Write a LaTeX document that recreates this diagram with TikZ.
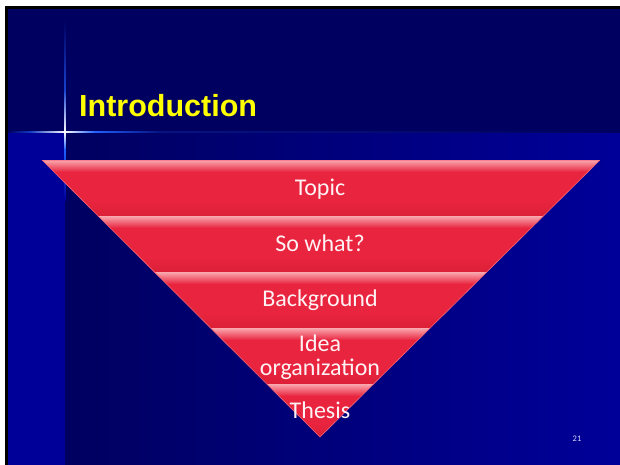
\documentclass[tikz,border=0pt]{standalone}
\usepackage{fontspec}
\setmainfont{Carlito}
\newfontfamily\titlefont{Liberation Sans}
\definecolor{navy}{HTML}{000060}
\definecolor{brightblue}{HTML}{000099}
\definecolor{bandred}{HTML}{E8243E}
\definecolor{banddark}{HTML}{DC1F37}
\definecolor{bandpink}{HTML}{FAA8B0}
\definecolor{titleyellow}{HTML}{FFFF00}
\definecolor{flareblue}{HTML}{2060FF}
\definecolor{textwhite}{HTML}{FFF2F4}
\tikzset{
  bandtext/.style={text=textwhite, font=\fontsize{24}{26}\selectfont, anchor=base, inner sep=0pt},
  titletext/.style={text=titleyellow, font=\titlefont\bfseries\fontsize{30.5}{32}\selectfont, anchor=base west, inner sep=0pt},
  pagenum/.style={text=white!85!blue, font=\fontsize{8.5}{9}\selectfont, inner sep=0pt}
}
\begin{document}
\begin{tikzpicture}[x=1pt,y=-1pt]
\useasboundingbox (0,0) rectangle (620,465);
% page
\fill[white] (0,0) rectangle (620,465);
\fill[black] (5,6) rectangle (620,465);
\fill[navy] (8,9) rectangle (620,132);
\fill[brightblue] (8,132) rectangle (65,465);
\shade[left color=navy, right color=brightblue] (65,132) rectangle (620,465);
% flare lines
\shade[left color=navy, right color=flareblue!60!navy] (8,131.4) rectangle (30,132.8);
\shade[left color=flareblue!60!navy, right color=white] (30,131.3) rectangle (65,132.9);
\shade[left color=white, right color=flareblue] (65,131.3) rectangle (95,132.9);
\shade[left color=flareblue, right color=navy!80!flareblue] (95,131.4) rectangle (160,132.8);
\shade[left color=navy!80!flareblue, right color=navy] (160,131.6) rectangle (620,132.6);
\shade[top color=navy, bottom color=flareblue!70!navy] (64.4,20) rectangle (65.8,90);
\shade[top color=flareblue!70!navy, bottom color=white] (64.3,90) rectangle (65.9,132);
\shade[top color=white, bottom color=flareblue] (64.3,132) rectangle (65.9,150);
\shade[top color=flareblue, bottom color=brightblue] (64.4,150) rectangle (65.8,200);
% triangle
\coordinate (tl) at (42,160);
\coordinate (tr) at (600,160);
\coordinate (ap) at (320,437);
\begin{scope}
\clip (tl) -- (tr) -- (ap) -- cycle;
\foreach \y/\h in {160/56,216/56,272/56,328/56,384/54}{
  \shade[top color=bandpink, bottom color=bandred] (0,\y) rectangle (620,\y+12);
  \fill[bandred] (0,\y+12) rectangle (620,\y+\h-14);
  \shade[top color=bandred, bottom color=banddark] (0,\y+\h-14) rectangle (620,\y+\h);
}
\end{scope}
\draw[bandpink!70!bandred, line width=0.8pt, line join=round] (tl) -- (tr);
\draw[bandpink!50!bandred, line width=0.6pt] (tl) -- (ap) -- (tr);
% texts
\node[titletext] (title) at (79,117) {Introduction};
\node[bandtext] (topic) at (320,195) {Topic};
\node[bandtext] (sowhat) at (320,251) {So what?};
\node[bandtext] (background) at (320,306) {Background};
\node[bandtext] (idea) at (320,351) {Idea};
\node[bandtext] (organization) at (320,375) {organization};
\node[bandtext] (thesis) at (320,418) {Thesis};
\node[pagenum] (num) at (577,439) {21};
\end{tikzpicture}
\end{document}
